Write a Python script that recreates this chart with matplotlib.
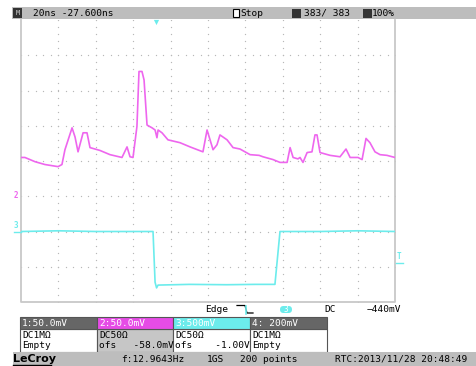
import matplotlib
matplotlib.use("Agg")
import matplotlib.pyplot as plt
from matplotlib.patches import Rectangle, FancyBboxPatch
import numpy as np

# ---------------- data ----------------
# Channel 2 (magenta), time in ns, amplitude in mV (50 mV/div, offset -58 mV)
ch2_t = [0, 2.1, 7.5, 12.8, 19.8, 21.9, 23.5, 27.3, 28.9, 30.5, 33.2, 35.3, 36.9,
         42.2, 47.6, 54.0, 56.7, 58.3, 59.9, 62.0, 63.1, 64.7, 65.8, 67.4, 70.1,
         71.7, 72.7, 73.3, 75.4, 78.6, 85.0, 90.4, 97.3, 99.5, 101.1, 102.7, 104.8,
         106.4, 110.2, 113.4, 117.1, 122.5, 127.3, 129.4, 134.8, 138.5, 142.3,
         143.9, 145.5, 148.1, 149.2, 150.8, 153.0, 155.6, 157.2, 158.3, 159.9,
         165.3, 170.6, 173.8, 176.0, 180.2, 182.4, 184.5, 186.6, 189.3, 192.0,
         195.7, 200.0]
ch2_mv = [63, 63, 57, 53, 50, 53, 74, 105, 92, 71, 98, 98, 77,
          73, 67, 63, 78, 64, 63, 107, 185, 185, 173, 109, 105,
          102, 91, 102, 98, 88, 84, 78, 71, 102, 88, 74, 81,
          95, 88, 77, 75, 67, 66, 64, 60, 56, 56,
          77, 63, 61, 63, 56, 70, 71, 95, 95, 70,
          66, 64, 75, 63, 63, 60, 90, 84, 71, 67,
          66, 63]
# Channel 3 (cyan), time in ns, amplitude in V (500 mV/div, offset -1.00 V)
ch3_t = [0, 20, 40, 60, 70.6, 71.7, 72.5, 73.3, 90, 110, 125, 135.8, 138.5, 160, 180, 200]
ch3_v = [0.0, 0.01, 0.0, 0.0, 0.0, -0.72, -0.80, -0.76, -0.75, -0.755, -0.75, -0.75, 0.0, 0.0, 0.01, 0.0]

ch2_scale, ch2_ofs = 50.0, -58.0      # mV/div, mV
ch3_scale, ch3_ofs = 0.5, -1.00       # V/div, V
trig_level = -0.44                    # V
trig_time = 72.4                      # ns
timebase = 20.0                       # ns/div

top_texts = ["20ns -27.600ns", "Stop", "383/ 383", "100%"]
box_headers = ["1:50.0mV", "2:50.0mV", "3:500mV", "4: 200mV"]
box_line1 = ["DC1M\u03a9", "DC50\u03a9", "DC50\u03a9", "DC1M\u03a9"]
box_line2 = ["Empty", "ofs   -58.0mV", "ofs    -1.00V", "Empty"]
bottom_texts = ["f:12.9643Hz", "1GS", "200 points", "RTC:2013/11/28 20:48:49"]

# ---------------- figure ----------------
W, H = 477, 366
fig = plt.figure(figsize=(W / 100, H / 100), dpi=100)
bg = fig.add_axes([0, 0, 1, 1])
bg.set_xlim(0, W)
bg.set_ylim(H, 0)
bg.axis("off")

MONO = "DejaVu Sans Mono"
FS = 6.8
GREY = "#bdbdbd"
DARK = "#666666"
MAG = "#ee66ee"
CYAN = "#6cecec"

# grid area
gx0, gy0, gx1, gy1 = 21, 20, 395, 302
ax = fig.add_axes([gx0 / W, 1 - gy1 / H, (gx1 - gx0) / W, (gy1 - gy0) / H])
ax.set_xlim(0, 10 * timebase)
ax.set_ylim(-4, 4)
ax.axis("off")

# dotted graticule
dot_c = "#b8b8b8"
for k in range(1, 10):
    ys = np.arange(-4, 4.01, 0.2)
    ax.scatter(np.full_like(ys, k * timebase), ys, s=0.9, c=dot_c, lw=0)
for j in range(-3, 4):
    xs = np.arange(0, 200.1, 0.2 * timebase)
    ax.scatter(xs, np.full_like(xs, j), s=0.9, c=dot_c, lw=0)
# graticule frame
ax.plot([0, 0, 200, 200], [4, -4, -4, 4], color="#c8c8c8", lw=1.3, clip_on=False)

# traces
ch2_div = [(v + ch2_ofs) / ch2_scale for v in ch2_mv]
ch3_div = [(v + ch3_ofs) / ch3_scale for v in ch3_v]
ax.plot(ch2_t, ch2_div, color=MAG, lw=1.2)
ax.plot(ch3_t, ch3_div, color=CYAN, lw=1.2)

# ground markers on left
gy2 = ch2_ofs / ch2_scale
gy3 = ch3_ofs / ch3_scale
ax.text(-1.5, gy2 + 0.05, "2", color=MAG, fontsize=5.5, family=MONO, fontweight="bold",
        ha="right", va="bottom", clip_on=False)
ax.text(-1.5, gy3 + 0.05, "3", color=CYAN, fontsize=5.5, family=MONO, fontweight="bold",
        ha="right", va="bottom", clip_on=False)
ax.plot([-4, 0], [gy3, gy3], color=CYAN, lw=1.0, clip_on=False)

# trigger level marker on right
tl = (trig_level + ch3_ofs) / ch3_scale
ax.text(201, tl + 0.05, "T", color=CYAN, fontsize=5.5, family=MONO, fontweight="bold",
        ha="left", va="bottom", clip_on=False)
ax.plot([200.5, 204.5], [tl, tl], color=CYAN, lw=1.0, clip_on=False)

# trigger time marker at top
ax.scatter([trig_time], [3.93], marker="v", s=14, c=CYAN, lw=0, clip_on=False, zorder=5)

# ---------------- top bar ----------------
bg.add_patch(Rectangle((12, 7), W - 12, 12, facecolor=GREY, edgecolor="none"))
bg.add_patch(Rectangle((13, 8), 9, 10, facecolor="#333333", edgecolor="none"))
bg.text(17.5, 13.2, "M", color="#cccccc", fontsize=5, family=MONO, ha="center", va="center")
bg.text(33, 13.3, top_texts[0], fontsize=FS, family=MONO, va="center", ha="left")
bg.add_patch(Rectangle((233, 9), 6, 8, facecolor="white", edgecolor="black", lw=0.8))
bg.text(240, 13.3, top_texts[1], fontsize=FS, family=MONO, va="center", ha="left")
bg.add_patch(Rectangle((292, 8.5), 9, 9, facecolor="#333333", edgecolor="none"))
bg.text(304, 13.3, top_texts[2], fontsize=FS, family=MONO, va="center", ha="left")
bg.add_patch(Rectangle((363, 8.5), 9, 9, facecolor="#333333", edgecolor="none"))
bg.text(372, 13.3, top_texts[3], fontsize=FS, family=MONO, va="center", ha="left")

# ---------------- trigger row ----------------
bg.text(205, 310, "Edge", fontsize=FS, family=MONO, va="center", ha="left")
bg.plot([237, 245, 247, 253], [305.5, 305.5, 313, 313], color="black", lw=0.9)
bg.plot([246, 246], [306, 314], color=CYAN, lw=1.2)
bg.add_patch(FancyBboxPatch((280, 306), 12, 7, boxstyle="round,pad=0,rounding_size=3.5",
                            facecolor=CYAN, edgecolor="none"))
bg.text(286, 309.8, "3", fontsize=5.5, family=MONO, color="white", ha="center", va="center")
bg.text(324, 310, "DC", fontsize=FS, family=MONO, va="center", ha="left")
bg.text(367, 310, "\u2212440mV", fontsize=FS, family=MONO, va="center", ha="left")

# ---------------- channel boxes ----------------
bx = [20, 97, 173, 250, 327]
head_fc = [DARK, "#e64ce6", CYAN, DARK]
body_fc = ["white", "#c6c6c6", "white", "white"]
for i in range(4):
    x0, x1 = bx[i], bx[i + 1]
    bg.add_patch(Rectangle((x0, 329), x1 - x0, 23, facecolor=body_fc[i],
                           edgecolor="#555555", lw=0.8))
    bg.add_patch(Rectangle((x0, 317), x1 - x0, 12, facecolor=head_fc[i],
                           edgecolor="#555555", lw=0.8))
    bg.text(x0 + 2, 323.3, box_headers[i], fontsize=FS, family=MONO, color="white",
            va="center", ha="left")
    bg.text(x0 + 2, 335, box_line1[i], fontsize=FS, family=MONO, va="center", ha="left")
    bg.text(x0 + 2, 346, box_line2[i], fontsize=FS, family=MONO, va="center", ha="left")

# ---------------- bottom bar ----------------
bg.add_patch(Rectangle((13, 352), W - 13, 14, facecolor=GREY, edgecolor="none"))
bg.text(13, 359.5, "LeCroy", fontsize=8, family="DejaVu Sans", fontweight="bold",
        va="center", ha="left", color="black")
bg.plot([13, 51], [365.3, 365.3], color="black", lw=1.0)
bg.text(121, 359.5, bottom_texts[0], fontsize=FS, family=MONO, va="center", ha="left")
bg.text(207, 359.5, bottom_texts[1], fontsize=FS, family=MONO, va="center", ha="left")
bg.text(240, 359.5, bottom_texts[2], fontsize=FS, family=MONO, va="center", ha="left")
bg.text(335, 359.5, bottom_texts[3], fontsize=FS, family=MONO, va="center", ha="left")

fig.savefig("out.png", dpi=100)
